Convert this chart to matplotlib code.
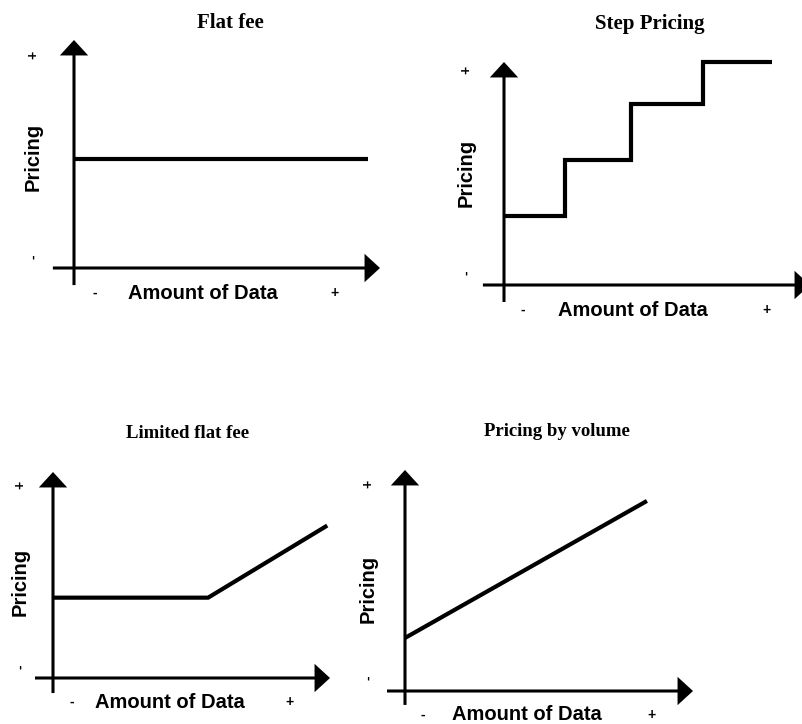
import matplotlib
matplotlib.use("Agg")
import matplotlib.pyplot as plt

# Valores de cada painel (unidades relativas 0-10 em cada eixo)
flat_x = [0, 9.6]
flat_y = [4.8, 4.8]

step_edges = [0, 2.0, 4.15, 6.5, 8.75]
step_levels = [3.1, 5.6, 8.1, 10.0]

limited_x = [0, 5.6, 9.9]
limited_y = [3.9, 3.9, 7.4]

volume_x = [0, 8.4]
volume_y = [2.4, 8.6]

titles = ["Flat fee", "Step Pricing", "Limited flat fee", "Pricing by volume"]
x_label = "Amount of Data"
y_label = "Pricing"

W, H = 803, 724
fig = plt.figure(figsize=(W / 100, H / 100), dpi=100)


def fx(x):
    return x / W


def fy(y):
    return 1 - y / H


def make_axes(left, top, right, bottom):
    ax = fig.add_axes([fx(left), fy(bottom), (right - left) / W, (bottom - top) / H])
    ax.set_xlim(0, 10)
    ax.set_ylim(0, 10)
    ax.axis("off")
    return ax


def draw_axes_arrows(ax, over_x, over_y):
    arrow = dict(arrowstyle="-|>,head_length=0.6,head_width=0.55", mutation_scale=14,
                 lw=2.2, color="black", shrinkA=0, shrinkB=0, capstyle="butt",
                 joinstyle="miter")
    ax.annotate("", xy=(1, 0), xytext=(over_x, 0), xycoords="axes fraction",
                arrowprops=arrow, annotation_clip=False)
    ax.annotate("", xy=(0, 1), xytext=(0, over_y), xycoords="axes fraction",
                arrowprops=arrow, annotation_clip=False)


def labels(title, title_pos, title_size, ypos, xpos):
    fig.text(fx(title_pos[0]), fy(title_pos[1]), title, ha="center", va="center",
             family="Liberation Serif", weight="bold", fontsize=title_size)
    # eixo y: +, Pricing, -
    yx, yplus, ymid, yminus = ypos
    fig.text(fx(yx), fy(yplus), "+", rotation=90, ha="center", va="center",
             family="Liberation Sans", weight="bold", fontsize=10)
    fig.text(fx(yx), fy(ymid), y_label, rotation=90, ha="center", va="center",
             family="Liberation Sans", weight="bold", fontsize=14.5)
    fig.text(fx(yx), fy(yminus), "-", rotation=90, ha="center", va="center",
             family="Liberation Sans", weight="bold", fontsize=10)
    # eixo x: -, Amount of Data, +
    xy, xminus, xmid, xplus = xpos
    fig.text(fx(xminus), fy(xy), "-", ha="center", va="center",
             family="Liberation Sans", weight="bold", fontsize=10)
    fig.text(fx(xmid), fy(xy), x_label, ha="center", va="center",
             family="Liberation Sans", weight="bold", fontsize=14.5)
    fig.text(fx(xplus), fy(xy), "+", ha="center", va="center",
             family="Liberation Sans", weight="bold", fontsize=10)


line_style = dict(color="black", lw=3, solid_joinstyle="miter", solid_capstyle="butt",
                  clip_on=False)

# Flat fee
ax1 = make_axes(74, 40, 380, 268)
draw_axes_arrows(ax1, -0.069, -0.075)
ax1.plot(flat_x, flat_y, **line_style)
labels(titles[0], (230, 23), 15, (33, 55, 157, 257), (293, 95, 203, 335))

# Step Pricing
ax2 = make_axes(504, 62, 810, 285)
draw_axes_arrows(ax2, -0.069, -0.076)
ax2.stairs(step_levels, step_edges, baseline=None, color="black", lw=3,
           joinstyle="miter", clip_on=False)
labels(titles[1], (650, 24), 15, (466, 70, 173, 273), (310, 523, 633, 767))

# Limited flat fee
ax3 = make_axes(53, 472, 330, 678)
draw_axes_arrows(ax3, -0.065, -0.073)
ax3.plot(limited_x, limited_y, **line_style)
labels(titles[2], (188, 433), 13.5, (20, 485, 582, 667), (702, 72, 170, 290))

# Pricing by volume
ax4 = make_axes(405, 470, 693, 691)
draw_axes_arrows(ax4, -0.0625, -0.063)
ax4.plot(volume_x, volume_y, **line_style)
labels(titles[3], (557, 432), 13.5, (368, 484, 589, 678), (715, 423, 527, 652))

fig.savefig("out.png", dpi=100)
